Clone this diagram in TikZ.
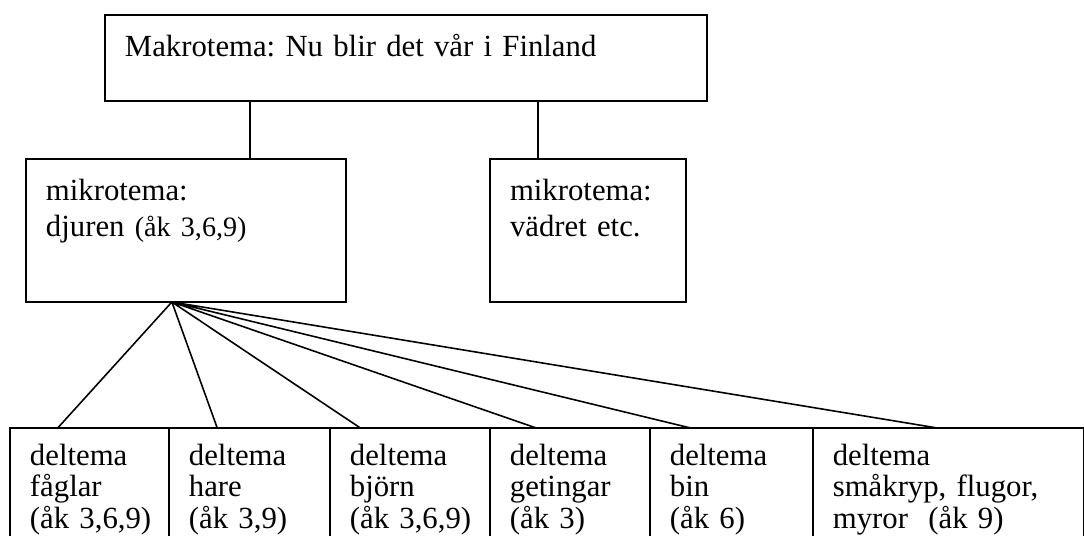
\documentclass[tikz,border=0pt]{standalone}
\usepackage{fontspec}
\setmainfont{Liberation Serif}
\usetikzlibrary{positioning,calc}
\frenchspacing

\begin{document}
\begin{tikzpicture}[x=0.02cm, y=-0.02cm, every node/.style={font=\fontsize{17.5}{20}\selectfont}, box/.style={draw, line width=1pt, anchor=north west, align=left, inner xsep=0.4cm, inner ysep=0pt, outer sep=0pt}, delta/.style={box, text width=#1, text height=0.74cm, text depth=1.8cm, font=\fontsize{17.5}{18}\selectfont}, link/.style={line width=0.9pt}]
\clip (0,0) rectangle (1084,535);
\node[box, text width=11.24cm, text height=0.84cm, text depth=0.88cm] (makro) at (105,15) {Makrotema: Nu blir det vår i Finland};
\node[box, text width=5.6cm, text height=0.82cm, text depth=2.04cm] (djur) at (26,159) {mikrotema:\\[1pt]djuren {\fontsize{16}{20}\selectfont(åk~3,6,9)}};
\node[box, text width=3.12cm, text height=0.82cm, text depth=2.04cm] (vader) at (490,159) {mikrotema:\\[1pt]vädret etc.};
\node[delta=2.38cm] (faglar) at (10,428) {deltema\\fåglar\\(åk~3,6,9)};
\node[delta=2.42cm, right=0pt of faglar] (hare) {deltema\\hare\\(åk~3,9)};
\node[delta=2.4cm, right=0pt of hare] (bjorn) {deltema\\björn\\(åk~3,6,9)};
\node[delta=2.4cm, right=0pt of bjorn] (geting) {deltema\\getingar\\(åk~3)};
\node[delta=2.46cm, right=0pt of geting] (bin) {deltema\\bin\\(åk~6)};
\node[delta=4.62cm, right=0pt of bin] (smakryp) {deltema\\småkryp, flugor,\\myror\ \ (åk~9)};
\coordinate (djurtop) at ($(djur.north west)!0.7!(djur.north east)$);
\coordinate (vadertop) at ($(vader.north west)!0.245!(vader.north east)$);
\coordinate (apex) at ($(djur.south west)!0.456!(djur.south east)$);
\draw[link] (djurtop) -- (djurtop |- makro.south);
\draw[link] (vadertop) -- (vadertop |- makro.south);
\draw[link] (apex) -- ($(faglar.north west)!0.3!(faglar.north east)$)
  (apex) -- ($(hare.north west)!0.3!(hare.north east)$)
  (apex) -- ($(bjorn.north west)!0.19!(bjorn.north east)$)
  (apex) -- ($(geting.north west)!0.29!(geting.north east)$)
  (apex) -- ($(bin.north west)!0.25!(bin.north east)$)
  (apex) -- ($(smakryp.north west)!0.46!(smakryp.north east)$);
\end{tikzpicture}
\end{document}
